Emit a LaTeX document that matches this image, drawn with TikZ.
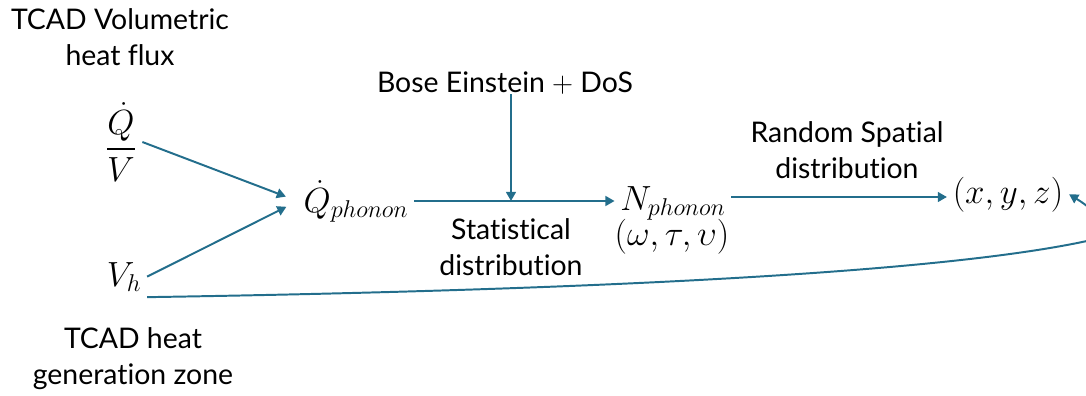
\documentclass[tikz,border=0pt]{standalone}
\usepackage{amsmath}
\usepackage{fontspec}
\setmainfont{Lato}[Ligatures=NoCommon]
\usepackage{tikz}
\usetikzlibrary{arrows.meta,calc}
\definecolor{steel}{HTML}{236E8C}
\tikzset{caption/.style={align=center,font=\fontsize{20.2}{25.6}\selectfont,inner sep=0pt}, qty/.style={font=\fontsize{23.5}{27}\selectfont,inner sep=4pt}, flow/.style={-{Triangle[length=6.5pt,width=7pt]},line width=1.4pt,draw=steel}}

\begin{document}
\begin{tikzpicture}[x=0.025cm,y=-0.025cm]
\useasboundingbox (0,0) rectangle (1086,395);
\node[caption] (flux) at (120,37) {TCAD Volumetric\\heat flux};
\node[caption] (zone) at (133,359) {TCAD heat\\generation zone};
\node[qty] (qv) at (121,142) {$\dfrac{\dot{Q}}{V}$};
\node[qty,anchor=base] (vh) at (124,286) {$V_h$};
\node[qty,anchor=base] (qph) at (356,212) {$\dot{Q}_{phonon}$};
\node[caption,anchor=base] (bose) at (505,92) {Bose Einstein $+$ DoS};
\node[qty,anchor=base] (nph) at (673,210) {$N_{phonon}$};
\node[qty,anchor=base] (wtv) at (672,245) {$(\omega,\tau,\upsilon)$};
\node[qty,anchor=base] (xyz) at (1008,203) {$(x,y,z)$};
\node[caption] (stat) at (511,247) {Statistical\\distribution};
\node[caption] (rand) at (847,150) {Random Spatial\\distribution};
\coordinate (mix) at (511,201);
\draw[flow,shorten >=9pt] (qv.east) -- (qph.west);
\draw[flow,shorten >=9pt] (vh.east) -- (qph.west);
\draw[flow] (qph.east |- mix) -- (nph.west |- mix);
\draw[flow] (bose.south -| mix) -- (mix);
\draw[flow] (nph.east |- 0,197) -- (xyz.west |- 0,197);
\draw[flow] (vh.south east) .. controls (600,290) and (960,272) .. (1100,238) .. controls (1115,232) and (1098,212) .. (xyz.east);
\end{tikzpicture}
\end{document}
